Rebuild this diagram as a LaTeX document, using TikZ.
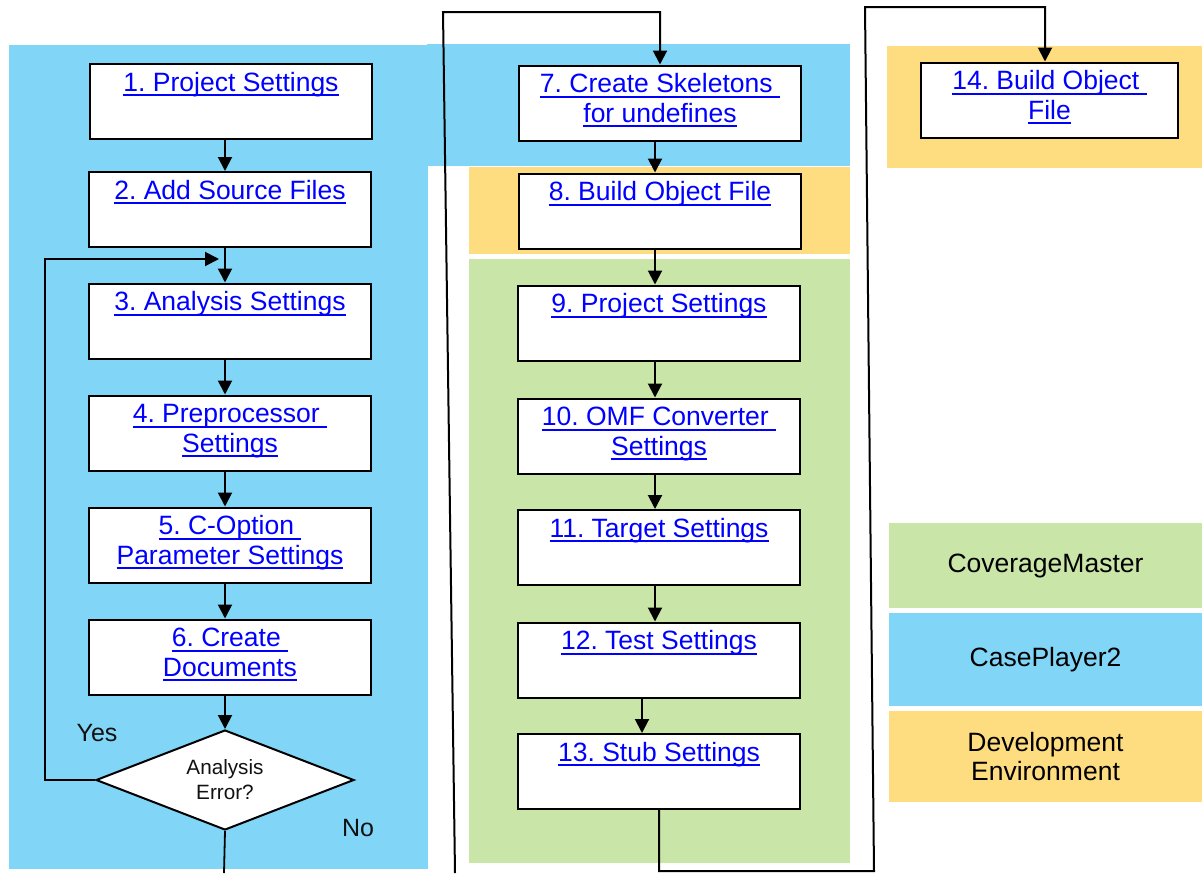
\documentclass[tikz,border=0pt]{standalone}
\usepackage{fontspec}
\setmainfont{Liberation Sans}
\usetikzlibrary{arrows.meta,shapes.geometric}
\frenchspacing
\definecolor{cpblue}{RGB}{129,214,247}
\definecolor{cmgreen}{RGB}{201,229,168}
\definecolor{devyellow}{RGB}{254,221,128}
\definecolor{linkblue}{RGB}{0,0,255}
\definecolor{txtdark}{RGB}{17,17,17}
\newcommand{\lnk}[1]{\leavevmode\setbox0=\hbox{#1}\rlap{\rule[-5pt]{\wd0}{1.8pt}}\box0}
\newcommand{\bxtext}[2]{\parbox[c][75pt][t]{#1}{\frenchspacing\centering\rule{0pt}{27pt}#2}}
\tikzset{
  stepbox/.style={draw=black, line width=2pt, fill=white, inner sep=0pt, rectangle,
    text=linkblue, font=\fontsize{26.5}{29.5}\selectfont},
  decide/.style={draw=black, line width=2pt, fill=white, diamond, aspect=2.58, inner sep=0pt,
    minimum width=258pt, minimum height=100pt, align=center, text=txtdark,
    font=\fontsize{20.7}{25}\selectfont},
  legendbox/.style={rectangle, inner sep=0pt, minimum width=313pt, align=center,
    text=black, font=\fontsize{26.5}{30}\selectfont},
  lbl/.style={text=txtdark, font=\fontsize{25}{28}\selectfont, inner sep=0pt},
  arr/.style={line width=2pt, draw=black, -{Triangle[length=14pt,width=14pt]}},
  conn/.style={line width=1.8pt, draw=black},
}
\begin{document}
\begin{tikzpicture}[x=1pt,y=-1pt]
\useasboundingbox (0,0) rectangle (1202,873);
% background regions
\fill[cpblue] (9,45) rectangle (428,869);
\fill[cpblue] (427,44) rectangle (850,166);
\fill[devyellow] (469,167) rectangle (850,254);
\fill[cmgreen] (469,259) rectangle (850,863);
\fill[devyellow] (887,46) rectangle (1202,168);
% legend
\node[legendbox, fill=cmgreen, minimum height=85pt] (lgG) at (1045.5,565.5) {CoverageMaster};
\node[legendbox, fill=cpblue, minimum height=93pt] (lgB) at (1045.5,659.5) {CasePlayer2};
\node[legendbox, fill=devyellow, minimum height=91pt] (lgY) at (1045.5,756.5) {Development\\[-1pt]Environment};
% column coordinates
\coordinate (lx) at (225,0);
\coordinate (mx) at (655,0);
\coordinate (mx2) at (642,0);
\coordinate (rx) at (1045,0);
\coordinate (loopend) at (219,259);
\coordinate (loopx) at (45,259);
\coordinate (dEnd) at (224,873);
\coordinate (L0) at (455,873);
\coordinate (L1) at (443,12);
\coordinate (R1) at (874,871);
\coordinate (R2) at (865,7);
% boxes
\node[stepbox] (b1) at (231,101.5) {\bxtext{282pt}{\lnk{1. Project Settings}}};
\node[stepbox] (b2) at (230,209.5) {\bxtext{282pt}{\lnk{2. Add Source Files}}};
\node[stepbox] (b3) at (230,321) {\bxtext{282pt}{\lnk{3. Analysis Settings}}};
\node[stepbox] (b4) at (230,433) {\bxtext{282pt}{\lnk{4. Preprocessor }\\\lnk{Settings}}};
\node[stepbox] (b5) at (230,545) {\bxtext{282pt}{\lnk{5. C-Option }\\\lnk{Parameter Settings}}};
\node[stepbox] (b6) at (230,657) {\bxtext{282pt}{\lnk{6. Create }\\\lnk{Documents}}};
\node[decide] (d) at (225,780) {Analysis\\Error?};
\node[stepbox] (b7) at (660,103) {\bxtext{282pt}{\lnk{7. Create Skeletons }\\\lnk{for undefines}}};
\node[stepbox] (b8) at (660,211) {\bxtext{282pt}{\lnk{8. Build Object File}}};
\node[stepbox] (b9) at (659,323) {\bxtext{282pt}{\lnk{9. Project Settings}}};
\node[stepbox] (b10) at (659,436) {\bxtext{282pt}{\lnk{10. OMF Converter }\\\lnk{Settings}}};
\node[stepbox] (b11) at (659,547.5) {\bxtext{282pt}{\lnk{11. Target Settings}}};
\node[stepbox] (b12) at (659,660) {\bxtext{282pt}{\lnk{12. Test Settings}}};
\node[stepbox] (b13) at (659,771.5) {\bxtext{282pt}{\lnk{13. Stub Settings}}};
\node[stepbox] (b14) at (1049.5,100) {\bxtext{257pt}{\lnk{14. Build Object }\\\lnk{File}}};
% labels
\node[lbl] (yes) at (97,733) {Yes};
\node[lbl] (no) at (358,828) {No};
% connectors left column
\draw[arr] (b1.south -| lx) -- (b2.north -| lx);
\draw[arr] (b2.south -| lx) -- (b3.north -| lx);
\draw[arr] (b3.south -| lx) -- (b4.north -| lx);
\draw[arr] (b4.south -| lx) -- (b5.north -| lx);
\draw[arr] (b5.south -| lx) -- (b6.north -| lx);
\draw[arr] (b6.south -| lx) -- (d.north);
\draw[arr] (d.west) -| (loopx) -- (loopend);
\draw[conn] (d.south) -- (dEnd);
% long connector to 7
\draw[arr] (L0) -- (L1) -| (b7.north -| b7.north);
% middle column
\draw[arr] (b7.south -| mx) -- (b8.north -| mx);
\draw[arr] (b8.south -| mx) -- (b9.north -| mx);
\draw[arr] (b9.south -| mx) -- (b10.north -| mx);
\draw[arr] (b10.south -| mx) -- (b11.north -| mx);
\draw[arr] (b11.south -| mx) -- (b12.north -| mx);
\draw[arr] (b12.south -| mx2) -- (b13.north -| mx2);
% long connector to 14
\draw[arr] (b13.south) -- (b13.south |- R1) -- (R1) -- (R2) -| (b14.north -| rx);
\end{tikzpicture}
\end{document}
